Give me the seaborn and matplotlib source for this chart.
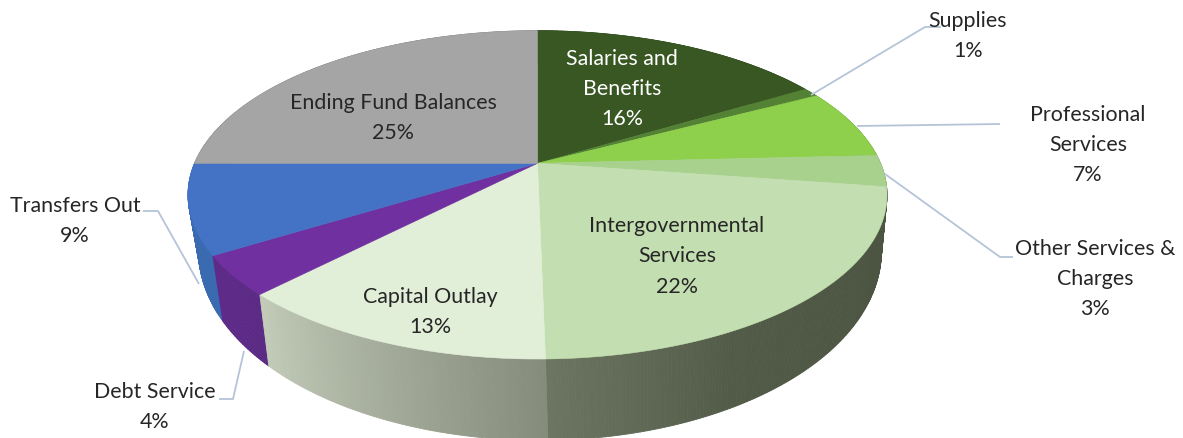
import numpy as np
import matplotlib
matplotlib.use("Agg")
import matplotlib.pyplot as plt
from matplotlib.collections import PolyCollection
from matplotlib.patches import Polygon
import seaborn as sns

# Budget shares, clockwise from twelve o'clock
categories = ["Salaries and\nBenefits", "Supplies", "Professional\nServices",
              "Other Services &\nCharges", "Intergovernmental\nServices",
              "Capital Outlay", "Debt Service", "Transfers Out",
              "Ending Fund Balances"]
shares = [16.4, 0.9, 6.9, 3.1, 22.4, 12.6, 3.9, 8.8, 25.0]
top_colors = ["#385723", "#548235", "#8ecf4c", "#a9d18e", "#c3deb0",
              "#e1eed8", "#7030a0", "#4472c4", "#a5a5a5"]
# Wall shading of each slice, following the clockwise direction
wall_tones = [("#2a4219", "#2a4219"), ("#3e6128", "#3e6128"), ("#6b9c39", "#6b9c39"),
              ("#7f9d6b", "#7f9d6b"), ("#4b5341", "#4d5543", "#525b48", "#6c7561"),
              ("#868c7c", "#c2cab8"), ("#5a2a84", "#5f2a8a"), ("#3a6ab0", "#3a6ab0"),
              ("#7c7c7c", "#7c7c7c")]
label_anchor = [(622, 89), (968, 36), (1088, 145), (1095, 279), (677, 256.5),
                (430, 312), (155, 407), (75, 221), (393, 118)]
label_color = ["white"] + ["#262626"] * 8
leaders = {
    "Supplies": [(811, 96), (925, 28), (941, 28)],
    "Professional": [(857, 127), (1000, 125)],
    "Other": [(885, 175), (1000, 258), (1013, 258)],
    "Transfers": [(143, 212), (158, 212), (199, 285)],
    "Debt": [(219, 400), (233, 400), (244, 352)],
}

sns.set_style("white")
plt.rcParams["font.family"] = ["Lato", "DejaVu Sans"]

fig = plt.figure(figsize=(11.83, 4.39), dpi=100)
ax = fig.add_axes([0, 0, 1, 1])
ax.set_xlim(0, 1183)
ax.set_ylim(439, 0)
ax.axis("off")

# Perspective mapping of the disc onto the page
CX, CY, K = 537.5, 164.3, 0.1922
RX, RY = 343.0, 158.1
LOWER_CX, LOWER_CY, LOWER_RX, LOWER_RY = 540.0, 216.0, 335.0, 182.0


def rim(frac):
    a = 2 * np.pi * np.asarray(frac)
    u, v = np.sin(a), np.cos(a)
    w = 1 + K * v
    return np.c_[CX + RX * u / w, CY - RY * v / w]


def lower_rim(frac):
    a = 2 * np.pi * np.asarray(frac)
    u, v = np.sin(a), np.cos(a)
    w = 1 + K * v
    return np.c_[LOWER_CX + LOWER_RX * u / w, LOWER_CY - LOWER_RY * v / w]


edges = np.concatenate([[0], np.cumsum(shares)]) / sum(shares)

# Outer wall: narrow strips painted from back to front
strips, strip_colors, strip_depth = [], [], []
for i, (a, b) in enumerate(zip(edges[:-1], edges[1:])):
    n = max(int((b - a) * 720), 2)
    ramp = sns.blend_palette(wall_tones[i], n)
    f = np.linspace(a, b, n + 1)
    up, lo = rim(f), lower_rim(f)
    for j in range(n):
        strips.append([up[j], up[j + 1], lo[j + 1], lo[j]])
        strip_colors.append(ramp[j])
        strip_depth.append(np.cos(np.pi * (f[j] + f[j + 1])))
order = np.argsort(strip_depth)[::-1]
ax.add_collection(PolyCollection([strips[i] for i in order],
                                 facecolors=[strip_colors[i] for i in order],
                                 edgecolors=[strip_colors[i] for i in order],
                                 linewidths=0.6, zorder=1))

# Upper face of every slice
for i, (a, b) in enumerate(zip(edges[:-1], edges[1:])):
    arc = rim(np.linspace(a, b, max(int((b - a) * 720), 4)))
    ax.add_patch(Polygon(np.vstack([[CX, CY], arc]), closed=True, fc=top_colors[i],
                         ec=top_colors[i], lw=0.4, zorder=2))

# Leader lines to the outside labels
for pts in leaders.values():
    xs, ys = zip(*pts)
    ax.plot(xs, ys, color="#b5c4d8", lw=1.3, zorder=3, solid_capstyle="butt")

for name, share, (x, y), col in zip(categories, shares, label_anchor, label_color):
    ax.text(x, y, f"{name}\n{share:.0f}%", ha="center", va="center", color=col,
            fontsize=15.4, linespacing=1.64, zorder=4)

fig.savefig("out.png", dpi=100, facecolor="white")
